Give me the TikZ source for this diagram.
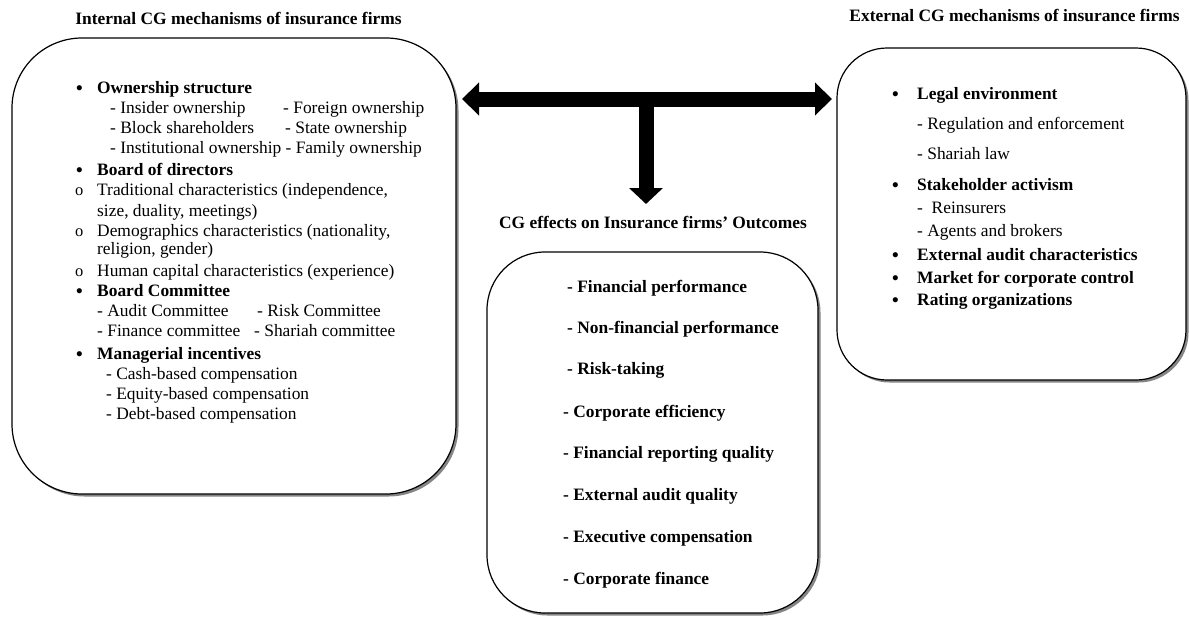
\documentclass[tikz,border=0pt]{standalone}
\usepackage{fontspec}
\setmainfont{Liberation Serif}
\usetikzlibrary{arrows.meta,shadows}
\newcommand\fsz{\fontsize{17.4}{20}\selectfont}
\tikzset{
  box/.style={draw=black, line width=1.2pt, fill=white,
    drop shadow={shadow xshift=2.5pt, shadow yshift=-2.5pt, fill=black!60, opacity=0.8}},
  txt/.style={anchor=base west, inner sep=0pt, font=\fsz},
  btxt/.style={anchor=base west, inner sep=0pt, font=\fsz\bfseries},
  ttl/.style={anchor=base, inner sep=0pt, font=\fsz\bfseries},
  bul/.style={anchor=base west, inner sep=0pt, font=\fontsize{19}{20}\selectfont\bfseries},
  cbul/.style={anchor=base west, inner sep=0pt, font=\fontsize{16.5}{20}\selectfont},
  bigarrow/.style={line width=15pt, black},
}
\begin{document}
\begin{tikzpicture}[x=1pt,y=-1pt]
\useasboundingbox (0,0) rectangle (1189,616);

% boxes
\node[box, rounded corners=70pt, minimum width=444pt, minimum height=456pt] (L) at (234,266) {};
\node[box, rounded corners=58pt, minimum width=331pt, minimum height=361pt] (M) at (652.5,432.5) {};
\node[box, rounded corners=50pt, minimum width=349pt, minimum height=332pt] (R) at (1011.5,214) {};

% titles
\node[ttl] (tL) at (238.5,24) {Internal CG mechanisms of insurance firms};
\node[ttl] (tR) at (1014.5,21) {External CG mechanisms of insurance firms};
\node[ttl] (tM) at (653,228) {CG effects on Insurance firms’ Outcomes};

% arrows
\coordinate (aL) at (462,99);
\coordinate (aR) at (832,99);
\coordinate (aJ) at (646,99);
\coordinate (aD) at (646,204);
\draw[bigarrow, {Triangle[length=17pt,width=32pt]}-{Triangle[length=17pt,width=32pt]}] (aL) -- (aR);
\draw[bigarrow, -{Triangle[length=16pt,width=33pt]}] (aJ) -- (aD);

% left content
\node[bul] (lb1) at (76,94) {•};
\node[btxt] (l1) at (97,93) {Ownership structure};
\node[txt] (l2a) at (110,113) {- Insider ownership};
\node[txt] (l2b) at (283,113) {- Foreign ownership};
\node[txt] (l3a) at (110,133) {- Block shareholders};
\node[txt] (l3b) at (285,133) {- State ownership};
\node[txt] (l4) at (110,153) {- Institutional ownership - Family ownership};
\node[bul] (lb2) at (76,176) {•};
\node[btxt] (l5) at (97,175) {Board of directors};
\node[cbul] (lo1) at (75,195) {o};
\node[txt] (l6) at (97,195) {Traditional characteristics (independence,};
\node[txt] (l7) at (97,216) {size, duality, meetings)};
\node[cbul] (lo2) at (75,236) {o};
\node[txt] (l8) at (97,236) {Demographics characteristics (nationality,};
\node[txt] (l9) at (97,254) {religion, gender)};
\node[cbul] (lo3) at (75,276) {o};
\node[txt] (l10) at (97,276) {Human capital characteristics (experience)};
\node[bul] (lb3) at (76,297) {•};
\node[btxt] (l11) at (97,296) {Board Committee};
\node[txt] (l12a) at (97,316) {- Audit Committee};
\node[txt] (l12b) at (257,316) {- Risk Committee};
\node[txt] (l13a) at (97,336) {- Finance committee};
\node[txt] (l13b) at (254,336) {- Shariah committee};
\node[bul] (lb4) at (76,360) {•};
\node[btxt] (l14) at (97,359) {Managerial incentives};
\node[txt] (l15) at (106,379) {- Cash-based compensation};
\node[txt] (l16) at (106,399) {- Equity-based compensation};
\node[txt] (l17) at (106,419) {- Debt-based compensation};

% middle content
\node[btxt] (m1) at (567,292) {- Financial performance};
\node[btxt] (m2) at (567,333) {- Non-financial performance};
\node[btxt] (m3) at (567,374) {- Risk-taking};
\node[btxt] (m4) at (563,417) {- Corporate efficiency};
\node[btxt] (m5) at (563,458) {- Financial reporting quality};
\node[btxt] (m6) at (563,500) {- External audit quality};
\node[btxt] (m7) at (563,542) {- Executive compensation};
\node[btxt] (m8) at (563,584) {- Corporate finance};

% right content
\node[bul] (rb1) at (892,100) {•};
\node[btxt] (r1) at (917,99) {Legal environment};
\node[txt] (r2) at (917,129) {- Regulation and enforcement};
\node[txt] (r3) at (917,159) {- Shariah law};
\node[bul] (rb2) at (892,191) {•};
\node[btxt] (r4) at (917,190) {Stakeholder activism};
\node[txt] (r5) at (917,213) {-\ \ Reinsurers};
\node[txt] (r6) at (917,236) {- Agents and brokers};
\node[bul] (rb3) at (892,261) {•};
\node[btxt] (r7) at (917,260) {External audit characteristics};
\node[bul] (rb4) at (892,284) {•};
\node[btxt] (r8) at (917,283) {Market for corporate control};
\node[bul] (rb5) at (892,306) {•};
\node[btxt] (r9) at (917,305) {Rating organizations};
\end{tikzpicture}
\end{document}
